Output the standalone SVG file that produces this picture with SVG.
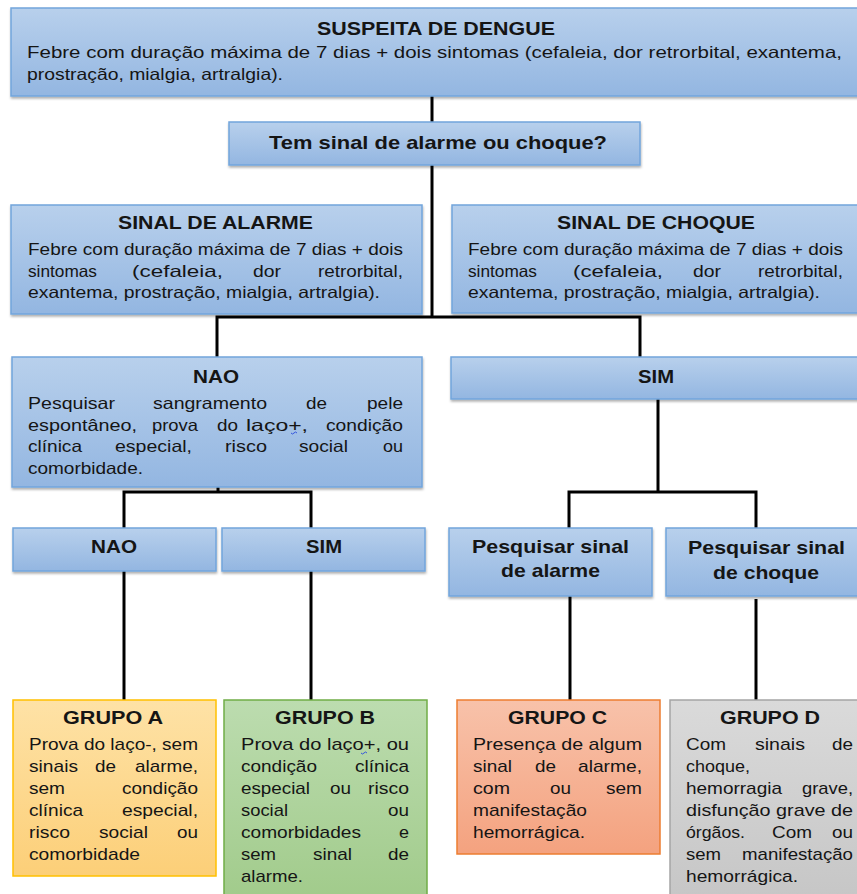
<svg xmlns="http://www.w3.org/2000/svg" width="857" height="894" viewBox="0 0 857 894">
<defs>
<linearGradient id="gBlue" x1="0" y1="0" x2="0" y2="1"><stop offset="0" stop-color="#b8d0ec"/><stop offset="1" stop-color="#93b6e1"/></linearGradient>
<linearGradient id="gYellow" x1="0" y1="0" x2="0" y2="1"><stop offset="0" stop-color="#fee2a6"/><stop offset="1" stop-color="#fccf78"/></linearGradient>
<linearGradient id="gGreen" x1="0" y1="0" x2="0" y2="1"><stop offset="0" stop-color="#bcdcaf"/><stop offset="1" stop-color="#a1cb8b"/></linearGradient>
<linearGradient id="gOrange" x1="0" y1="0" x2="0" y2="1"><stop offset="0" stop-color="#f8c2aa"/><stop offset="1" stop-color="#f4a27f"/></linearGradient>
<linearGradient id="gGrey" x1="0" y1="0" x2="0" y2="1"><stop offset="0" stop-color="#dadada"/><stop offset="1" stop-color="#c6c6c6"/></linearGradient>
<filter id="sh" x="-5%" y="-10%" width="110%" height="130%"><feDropShadow dx="0.5" dy="2" stdDeviation="1.2" flood-color="#000" flood-opacity="0.3"/></filter>
</defs>
<style>
text{font-family:"Liberation Sans",Arial,sans-serif;fill:#151515;font-size:16.5px}
.h{font-weight:bold;font-size:18.5px}
.g{font-weight:bold;font-size:19px}
.b{font-size:17px}
.blue{fill:url(#gBlue);stroke:#72a5dc;stroke-width:1.5;filter:url(#sh)}
.ya{fill:url(#gYellow);stroke:#ffc000;stroke-width:1.5}
.gb{fill:url(#gGreen);stroke:#70ad47;stroke-width:1.5}
.oc{fill:url(#gOrange);stroke:#ed7d31;stroke-width:1.5}
.gd{fill:url(#gGrey);stroke:#a5a5a5;stroke-width:1.5}
.c{fill:none;stroke:#000;stroke-width:3}
.sq{fill:none;stroke:#3355dd;stroke-width:1}
</style>

<g id="connectors">
<path class="c" d="M432,96 V122"/>
<path class="c" d="M432,165 V317"/>
<path class="c" d="M217,357 V317 H640 V357"/>
<path class="c" d="M218,487 V492"/>
<path class="c" d="M124,528 V492 H311 V528"/>
<path class="c" d="M658,399 V492"/>
<path class="c" d="M569,528 V492 H756 V528"/>
<path class="c" d="M124,571 V700"/>
<path class="c" d="M311,571 V700"/>
<path class="c" d="M570,596 V700"/>
<path class="c" d="M756,599 V700"/>
</g>

<g id="n_suspeita">
<rect class="blue" x="11" y="8" width="852" height="88"/>
<text class="h" x="317" y="35" textLength="238" lengthAdjust="spacingAndGlyphs">SUSPEITA DE DENGUE</text>
<text x="27" y="58" textLength="815" lengthAdjust="spacingAndGlyphs">Febre com duração máxima de 7 dias + dois sintomas (cefaleia, dor retrorbital, exantema,</text>
<text x="27" y="80" textLength="256" lengthAdjust="spacingAndGlyphs">prostração, mialgia, artralgia).</text>
</g>

<g id="n_pergunta">
<rect class="blue" x="229" y="122" width="411" height="43"/>
<text class="h" x="269" y="149" textLength="338" lengthAdjust="spacingAndGlyphs">Tem sinal de alarme ou choque?</text>
</g>

<g id="n_sinal_alarme">
<rect class="blue" x="11" y="205" width="411" height="109"/>
<text class="h" x="118" y="229" textLength="195" lengthAdjust="spacingAndGlyphs">SINAL DE ALARME</text>
<text x="28" y="255" textLength="375" lengthAdjust="spacingAndGlyphs">Febre com duração máxima de 7 dias + dois</text>
<text x="28" y="277" textLength="69" lengthAdjust="spacingAndGlyphs">sintomas</text>
<text x="132" y="277" textLength="91" lengthAdjust="spacingAndGlyphs">(cefaleia,</text>
<text x="253" y="277" textLength="28" lengthAdjust="spacingAndGlyphs">dor</text>
<text x="318" y="277" textLength="85" lengthAdjust="spacingAndGlyphs">retrorbital,</text>
<text x="28" y="298" textLength="352" lengthAdjust="spacingAndGlyphs">exantema, prostração, mialgia, artralgia).</text>
</g>

<g id="n_sinal_choque">
<rect class="blue" x="452" y="205" width="411" height="108"/>
<text class="h" x="557" y="229" textLength="198" lengthAdjust="spacingAndGlyphs">SINAL DE CHOQUE</text>
<text x="468" y="255" textLength="375" lengthAdjust="spacingAndGlyphs">Febre com duração máxima de 7 dias + dois</text>
<text x="468" y="277" textLength="69" lengthAdjust="spacingAndGlyphs">sintomas</text>
<text x="573" y="277" textLength="90" lengthAdjust="spacingAndGlyphs">(cefaleia,</text>
<text x="693" y="277" textLength="28" lengthAdjust="spacingAndGlyphs">dor</text>
<text x="758" y="277" textLength="85" lengthAdjust="spacingAndGlyphs">retrorbital,</text>
<text x="468" y="298" textLength="352" lengthAdjust="spacingAndGlyphs">exantema, prostração, mialgia, artralgia).</text>
</g>

<g id="n_nao">
<rect class="blue" x="12" y="357" width="410" height="130"/>
<text class="h" x="193" y="383" textLength="46" lengthAdjust="spacingAndGlyphs">NAO</text>
<text x="28" y="409" textLength="87" lengthAdjust="spacingAndGlyphs">Pesquisar</text>
<text x="153" y="409" textLength="114" lengthAdjust="spacingAndGlyphs">sangramento</text>
<text x="306" y="409" textLength="21" lengthAdjust="spacingAndGlyphs">de</text>
<text x="367" y="409" textLength="36" lengthAdjust="spacingAndGlyphs">pele</text>
<text x="28" y="431" textLength="109" lengthAdjust="spacingAndGlyphs">espontâneo,</text>
<text x="152" y="431" textLength="46" lengthAdjust="spacingAndGlyphs">prova</text>
<text x="217" y="431" textLength="21" lengthAdjust="spacingAndGlyphs">do</text>
<text x="246" y="431" textLength="62" lengthAdjust="spacingAndGlyphs">laço+,</text>
<text x="326" y="431" textLength="77" lengthAdjust="spacingAndGlyphs">condição</text>
<path class="sq" d="M291,433 q1.5,2 3,0 t3,0"/>
<text x="28" y="452" textLength="54" lengthAdjust="spacingAndGlyphs">clínica</text>
<text x="115" y="452" textLength="77" lengthAdjust="spacingAndGlyphs">especial,</text>
<text x="225" y="452" textLength="42" lengthAdjust="spacingAndGlyphs">risco</text>
<text x="299" y="452" textLength="49" lengthAdjust="spacingAndGlyphs">social</text>
<text x="383" y="452" textLength="20" lengthAdjust="spacingAndGlyphs">ou</text>
<text x="28" y="474" textLength="115" lengthAdjust="spacingAndGlyphs">comorbidade.</text>
</g>

<g id="n_sim">
<rect class="blue" x="451" y="357" width="412" height="42"/>
<text class="h" x="638" y="383" textLength="36" lengthAdjust="spacingAndGlyphs">SIM</text>
</g>

<g id="n_nao2">
<rect class="blue" x="13" y="528" width="203" height="43"/>
<text class="h" x="91" y="553" textLength="46" lengthAdjust="spacingAndGlyphs">NAO</text>
</g>

<g id="n_sim2">
<rect class="blue" x="222" y="528" width="203" height="43"/>
<text class="h" x="306" y="553" textLength="36" lengthAdjust="spacingAndGlyphs">SIM</text>
</g>

<g id="n_pesq_alarme">
<rect class="blue" x="449" y="528" width="203" height="68"/>
<text class="h" x="472" y="553" textLength="157" lengthAdjust="spacingAndGlyphs">Pesquisar sinal</text>
<text class="h" x="501" y="577" textLength="99" lengthAdjust="spacingAndGlyphs">de alarme</text>
</g>

<g id="n_pesq_choque">
<rect class="blue" x="666" y="528" width="197" height="68"/>
<text class="h" x="688" y="554" textLength="157" lengthAdjust="spacingAndGlyphs">Pesquisar sinal</text>
<text class="h" x="713" y="579" textLength="106" lengthAdjust="spacingAndGlyphs">de choque</text>
</g>

<g id="n_grupo_a">
<rect class="ya" x="13" y="700" width="203" height="176"/>
<text class="g" x="63" y="724" textLength="100" lengthAdjust="spacingAndGlyphs">GRUPO A</text>
<text class="b" x="29" y="750" textLength="169" lengthAdjust="spacingAndGlyphs">Prova do laço-, sem</text>
<text class="b" x="29" y="772" textLength="49" lengthAdjust="spacingAndGlyphs">sinais</text>
<text class="b" x="95" y="772" textLength="21" lengthAdjust="spacingAndGlyphs">de</text>
<text class="b" x="135" y="772" textLength="63" lengthAdjust="spacingAndGlyphs">alarme,</text>
<text class="b" x="29" y="794" textLength="36" lengthAdjust="spacingAndGlyphs">sem</text>
<text class="b" x="122" y="794" textLength="76" lengthAdjust="spacingAndGlyphs">condição</text>
<text class="b" x="29" y="816" textLength="54" lengthAdjust="spacingAndGlyphs">clínica</text>
<text class="b" x="122" y="816" textLength="76" lengthAdjust="spacingAndGlyphs">especial,</text>
<text class="b" x="29" y="838" textLength="41" lengthAdjust="spacingAndGlyphs">risco</text>
<text class="b" x="99" y="838" textLength="49" lengthAdjust="spacingAndGlyphs">social</text>
<text class="b" x="177" y="838" textLength="21" lengthAdjust="spacingAndGlyphs">ou</text>
<text class="b" x="29" y="860" textLength="111" lengthAdjust="spacingAndGlyphs">comorbidade</text>
</g>

<g id="n_grupo_b">
<rect class="gb" x="224" y="700" width="203" height="200"/>
<text class="g" x="275" y="724" textLength="100" lengthAdjust="spacingAndGlyphs">GRUPO B</text>
<text class="b" x="241" y="750" textLength="168" lengthAdjust="spacingAndGlyphs">Prova do laço+, ou</text>
<path class="sq" d="M361,753 q1.5,2 3,0 t3,0"/>
<text class="b" x="241" y="772" textLength="76" lengthAdjust="spacingAndGlyphs">condição</text>
<text class="b" x="355" y="772" textLength="54" lengthAdjust="spacingAndGlyphs">clínica</text>
<text class="b" x="241" y="794" textLength="69" lengthAdjust="spacingAndGlyphs">especial</text>
<text class="b" x="330" y="794" textLength="21" lengthAdjust="spacingAndGlyphs">ou</text>
<text class="b" x="368" y="794" textLength="41" lengthAdjust="spacingAndGlyphs">risco</text>
<text class="b" x="241" y="816" textLength="47" lengthAdjust="spacingAndGlyphs">social</text>
<text class="b" x="388" y="816" textLength="21" lengthAdjust="spacingAndGlyphs">ou</text>
<text class="b" x="241" y="838" textLength="120" lengthAdjust="spacingAndGlyphs">comorbidades</text>
<text class="b" x="399" y="838" textLength="10" lengthAdjust="spacingAndGlyphs">e</text>
<text class="b" x="241" y="860" textLength="35" lengthAdjust="spacingAndGlyphs">sem</text>
<text class="b" x="313" y="860" textLength="39" lengthAdjust="spacingAndGlyphs">sinal</text>
<text class="b" x="388" y="860" textLength="21" lengthAdjust="spacingAndGlyphs">de</text>
<text class="b" x="241" y="882" textLength="62" lengthAdjust="spacingAndGlyphs">alarme.</text>
</g>

<g id="n_grupo_c">
<rect class="oc" x="457" y="700" width="203" height="154"/>
<text class="g" x="508" y="724" textLength="99" lengthAdjust="spacingAndGlyphs">GRUPO C</text>
<text class="b" x="473" y="750" textLength="169" lengthAdjust="spacingAndGlyphs">Presença de algum</text>
<text class="b" x="473" y="772" textLength="39" lengthAdjust="spacingAndGlyphs">sinal</text>
<text class="b" x="535" y="772" textLength="21" lengthAdjust="spacingAndGlyphs">de</text>
<text class="b" x="578" y="772" textLength="64" lengthAdjust="spacingAndGlyphs">alarme,</text>
<text class="b" x="473" y="794" textLength="37" lengthAdjust="spacingAndGlyphs">com</text>
<text class="b" x="550" y="794" textLength="21" lengthAdjust="spacingAndGlyphs">ou</text>
<text class="b" x="606" y="794" textLength="36" lengthAdjust="spacingAndGlyphs">sem</text>
<text class="b" x="473" y="816" textLength="114" lengthAdjust="spacingAndGlyphs">manifestação</text>
<text class="b" x="473" y="838" textLength="112" lengthAdjust="spacingAndGlyphs">hemorrágica.</text>
</g>

<g id="n_grupo_d">
<rect class="gd" x="670" y="700" width="193" height="200"/>
<text class="g" x="720" y="724" textLength="100" lengthAdjust="spacingAndGlyphs">GRUPO D</text>
<text class="b" x="686" y="750" textLength="40" lengthAdjust="spacingAndGlyphs">Com</text>
<text class="b" x="755" y="750" textLength="50" lengthAdjust="spacingAndGlyphs">sinais</text>
<text class="b" x="832" y="750" textLength="21" lengthAdjust="spacingAndGlyphs">de</text>
<text class="b" x="686" y="772" textLength="64" lengthAdjust="spacingAndGlyphs">choque,</text>
<text class="b" x="686" y="794" textLength="96" lengthAdjust="spacingAndGlyphs">hemorragia</text>
<text class="b" x="802" y="794" textLength="51" lengthAdjust="spacingAndGlyphs">grave,</text>
<text class="b" x="686" y="816" textLength="167" lengthAdjust="spacingAndGlyphs">disfunção grave de</text>
<text class="b" x="686" y="838" textLength="59" lengthAdjust="spacingAndGlyphs">órgãos.</text>
<text class="b" x="772" y="838" textLength="40" lengthAdjust="spacingAndGlyphs">Com</text>
<text class="b" x="832" y="838" textLength="21" lengthAdjust="spacingAndGlyphs">ou</text>
<text class="b" x="686" y="860" textLength="35" lengthAdjust="spacingAndGlyphs">sem</text>
<text class="b" x="742" y="860" textLength="111" lengthAdjust="spacingAndGlyphs">manifestação</text>
<text class="b" x="686" y="882" textLength="112" lengthAdjust="spacingAndGlyphs">hemorrágica.</text>
</g>
</svg>
